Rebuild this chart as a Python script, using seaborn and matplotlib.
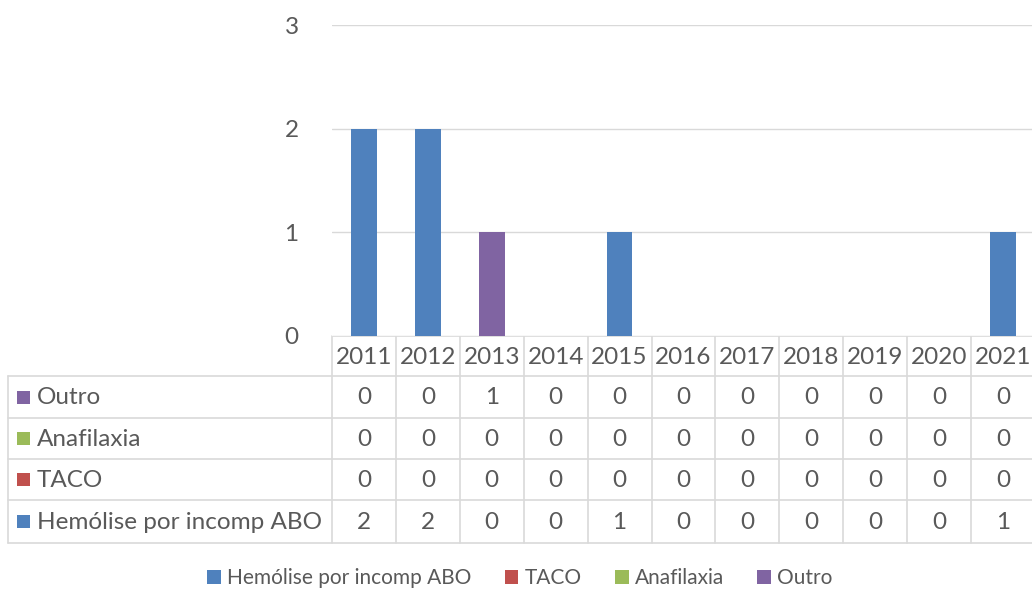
import matplotlib
matplotlib.use("Agg")
import matplotlib.pyplot as plt
import matplotlib.transforms as mtransforms
from matplotlib.patches import Patch
import seaborn as sns
import pandas as pd

years = ["2011", "2012", "2013", "2014", "2015", "2016", "2017", "2018", "2019", "2020", "2021"]
hemolise = [2, 2, 0, 0, 1, 0, 0, 0, 0, 0, 1]
taco = [0, 0, 0, 0, 0, 0, 0, 0, 0, 0, 0]
anafilaxia = [0, 0, 0, 0, 0, 0, 0, 0, 0, 0, 0]
outro = [0, 0, 1, 0, 0, 0, 0, 0, 0, 0, 0]
series_names = ["Hemólise por incomp ABO", "TACO", "Anafilaxia", "Outro"]
series_values = [hemolise, taco, anafilaxia, outro]
colors = ["#4f81bd", "#c0504d", "#9bbb59", "#8064a2"]
yticks = [0, 1, 2, 3]

sns.set_theme(style="white")
plt.rcParams["font.family"] = ["Lato", "DejaVu Sans"]
TXT = "#595959"
GRID = "#d9d9d9"
FS = 17.5

W, H = 1032, 590
fig = plt.figure(figsize=(W / 100, H / 100), dpi=100)
ax = fig.add_axes([332 / W, 1 - 336 / H, (1035 - 332) / W, (336 - 25) / H])

for name, vals, col in zip(series_names, series_values, colors):
    df = pd.DataFrame({"year": years, "value": vals})
    sns.barplot(data=df, x="year", y="value", order=years, color=col,
                width=0.4, saturation=1, ax=ax, zorder=3, linewidth=0)
ax.set_xlim(-0.5, len(years) - 0.5)
ax.set_ylim(0, 3)
ax.set_yticks(yticks)
ax.set_yticklabels([str(t) for t in yticks], fontsize=FS, color=TXT)
ax.tick_params(axis="y", length=0, pad=24)
ax.set_xticks([])
ax.set_xlabel("")
ax.set_ylabel("")
ax.grid(axis="y", color=GRID, linewidth=1, zorder=0)
for s in ax.spines.values():
    s.set_visible(False)

# data table: y in pixel coordinates, x in category coordinates
tax = fig.add_axes([0, 0, 1, 1], zorder=-1)
tax.set_xlim(0, W)
tax.set_ylim(H, 0)
tax.axis("off")
bt = mtransforms.blended_transform_factory(ax.transData, tax.transData)

row_edges = [336, 376, 418, 459, 500, 543]
left_x = 8
label_right = 333
n = len(years)
lw = 1.2
tax.plot([label_right, W], [row_edges[0]] * 2, color=GRID, lw=lw)
for y in row_edges[1:]:
    tax.plot([left_x, W], [y, y], color=GRID, lw=lw)
tax.plot([left_x, left_x], [row_edges[1], row_edges[-1]], color=GRID, lw=lw)
for i in range(n + 1):
    tax.plot([i - 0.5, i - 0.5], [row_edges[0], row_edges[-1]], color=GRID, lw=lw, transform=bt)

hy = (row_edges[0] + row_edges[1]) / 2
for i, yr in enumerate(years):
    tax.text(i, hy + 1, yr, transform=bt, ha="center", va="center", fontsize=FS, color=TXT)

order = list(range(len(series_names)))[::-1]
for r, si in enumerate(order):
    y0, y1 = row_edges[r + 1], row_edges[r + 2]
    yc = (y0 + y1) / 2
    tax.add_patch(plt.Rectangle((17, yc - 6.5), 13, 13, color=colors[si], lw=0))
    tax.text(37, yc + 1, series_names[si], ha="left", va="center", fontsize=FS, color=TXT)
    for i, v in enumerate(series_values[si]):
        tax.text(i, yc + 1, str(v), transform=bt, ha="center", va="center", fontsize=FS, color=TXT)

handles = [Patch(facecolor=c, edgecolor="none") for c in colors]
fig.legend(handles, series_names, loc="center", bbox_to_anchor=(520 / W, 1 - 578 / H),
           ncol=4, frameon=False, fontsize=15, labelcolor=TXT,
           handlelength=0.65, handleheight=0.65, handletextpad=0.3, columnspacing=1.6)

fig.savefig("out.png", dpi=100)
